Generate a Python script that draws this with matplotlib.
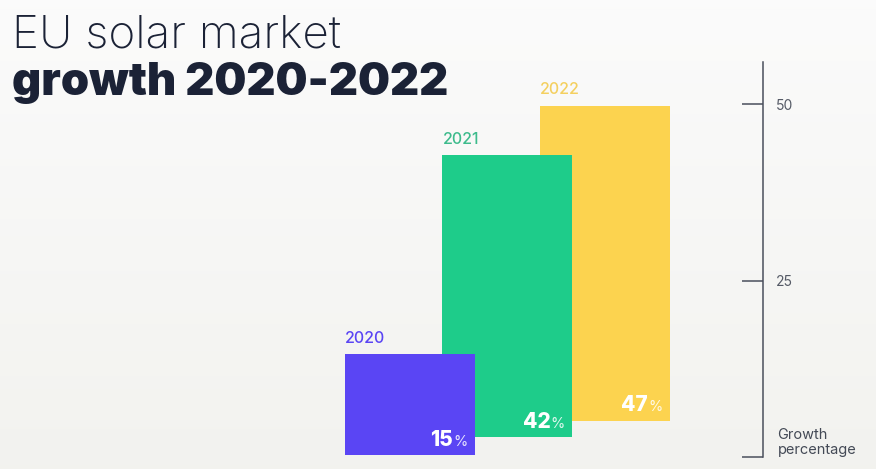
import numpy as np
import matplotlib.pyplot as plt

plt.rcParams["font.family"] = ["Inter", "DejaVu Sans"]

years = ["2020", "2021", "2022"]
growth = [15, 42, 47]
colors = ["#5a45f4", "#1ecc8a", "#fcd34f"]
label_colors = ["#5a45f4", "#3dbb8c", "#f4d060"]

W, H, DPI = 876, 469, 100
fig = plt.figure(figsize=(W / DPI, H / DPI), dpi=DPI)

# soft vertical background gradient
bg = fig.add_axes([0, 0, 1, 1], zorder=-10)
grad = np.linspace(0, 1, 256)[:, None]
top = np.array([0.985, 0.985, 0.985])
bot = np.array([0.950, 0.950, 0.937])
img = top + (bot - top) * grad[..., None]
bg.imshow(img, aspect="auto", extent=[0, 1, 0, 1])
bg.set_axis_off()

# bars: staggered columns, each one sitting a little higher than the last
px_per_unit = 6.7
step_px = 97.5
x0_px = 345
base_px = 457
depth = [0.3, 3.0, 5.4]

ax = fig.add_axes([0, 0, 1, 1])
ax.set_xlim(-x0_px / step_px, (W - x0_px) / step_px)
ax.set_ylim(-(H - base_px) / px_per_unit, base_px / px_per_unit)
ax.set_axis_off()

bar_w = 130 / step_px
xs = np.arange(len(years))
for i in reversed(range(len(years))):
    ax.bar(xs[i], growth[i], width=bar_w, bottom=depth[i], align="edge",
           color=colors[i], zorder=3 + (len(years) - i))
    top_y = depth[i] + growth[i]
    ax.text(xs[i], top_y + 1.3, years[i], color=label_colors[i],
            fontsize=11.5, fontweight="medium",
            ha="left", va="bottom", zorder=10)
    xr = xs[i] + bar_w - 22 / step_px
    ax.text(xr, depth[i] + 1.4, str(growth[i]), color="white", fontsize=15,
            fontweight="heavy", ha="right", va="baseline", zorder=10)
    ax.text(xr, depth[i] + 1.4, "%", color="white", fontsize=10.5,
            alpha=0.85, ha="left", va="baseline", zorder=10)

# right-hand scale
axis_top_px = 62
scale_px = 7.06
ax2 = fig.add_axes([700 / W, (H - base_px) / H, 63 / W,
                    (base_px - axis_top_px) / H])
ax2.set_ylim(0, (base_px - axis_top_px) / scale_px)
ax2.patch.set_visible(False)
for s in ["left", "top", "bottom"]:
    ax2.spines[s].set_visible(False)
ax2.spines["right"].set_color("#4a4f5c")
ax2.spines["right"].set_linewidth(1.1)
ax2.set_xticks([])
ax2.yaxis.tick_right()
ax2.set_yticks([0, 25, 50])
ax2.set_yticklabels(["", "25", "50"])
ax2.tick_params(axis="y", direction="in", length=15, width=1.1,
                color="#4a4f5c", labelcolor="#555a66", labelsize=10, pad=9)
ax2.text(1.23, 0, "Growth\npercentage", transform=ax2.transAxes,
         ha="left", va="bottom", fontsize=10.5, color="#444a56",
         linespacing=1.05)

# title
fig.text(12 / W, 1 - 47 / H, "EU solar market", fontsize=33,
         fontweight="light", color="#1b2236", ha="left", va="baseline")
fig.text(12 / W, 1 - 95 / H, "growth 2020-2022", fontsize=32.5,
         fontweight="black", color="#1b2236", ha="left", va="baseline")

fig.savefig("out.png", dpi=DPI)
